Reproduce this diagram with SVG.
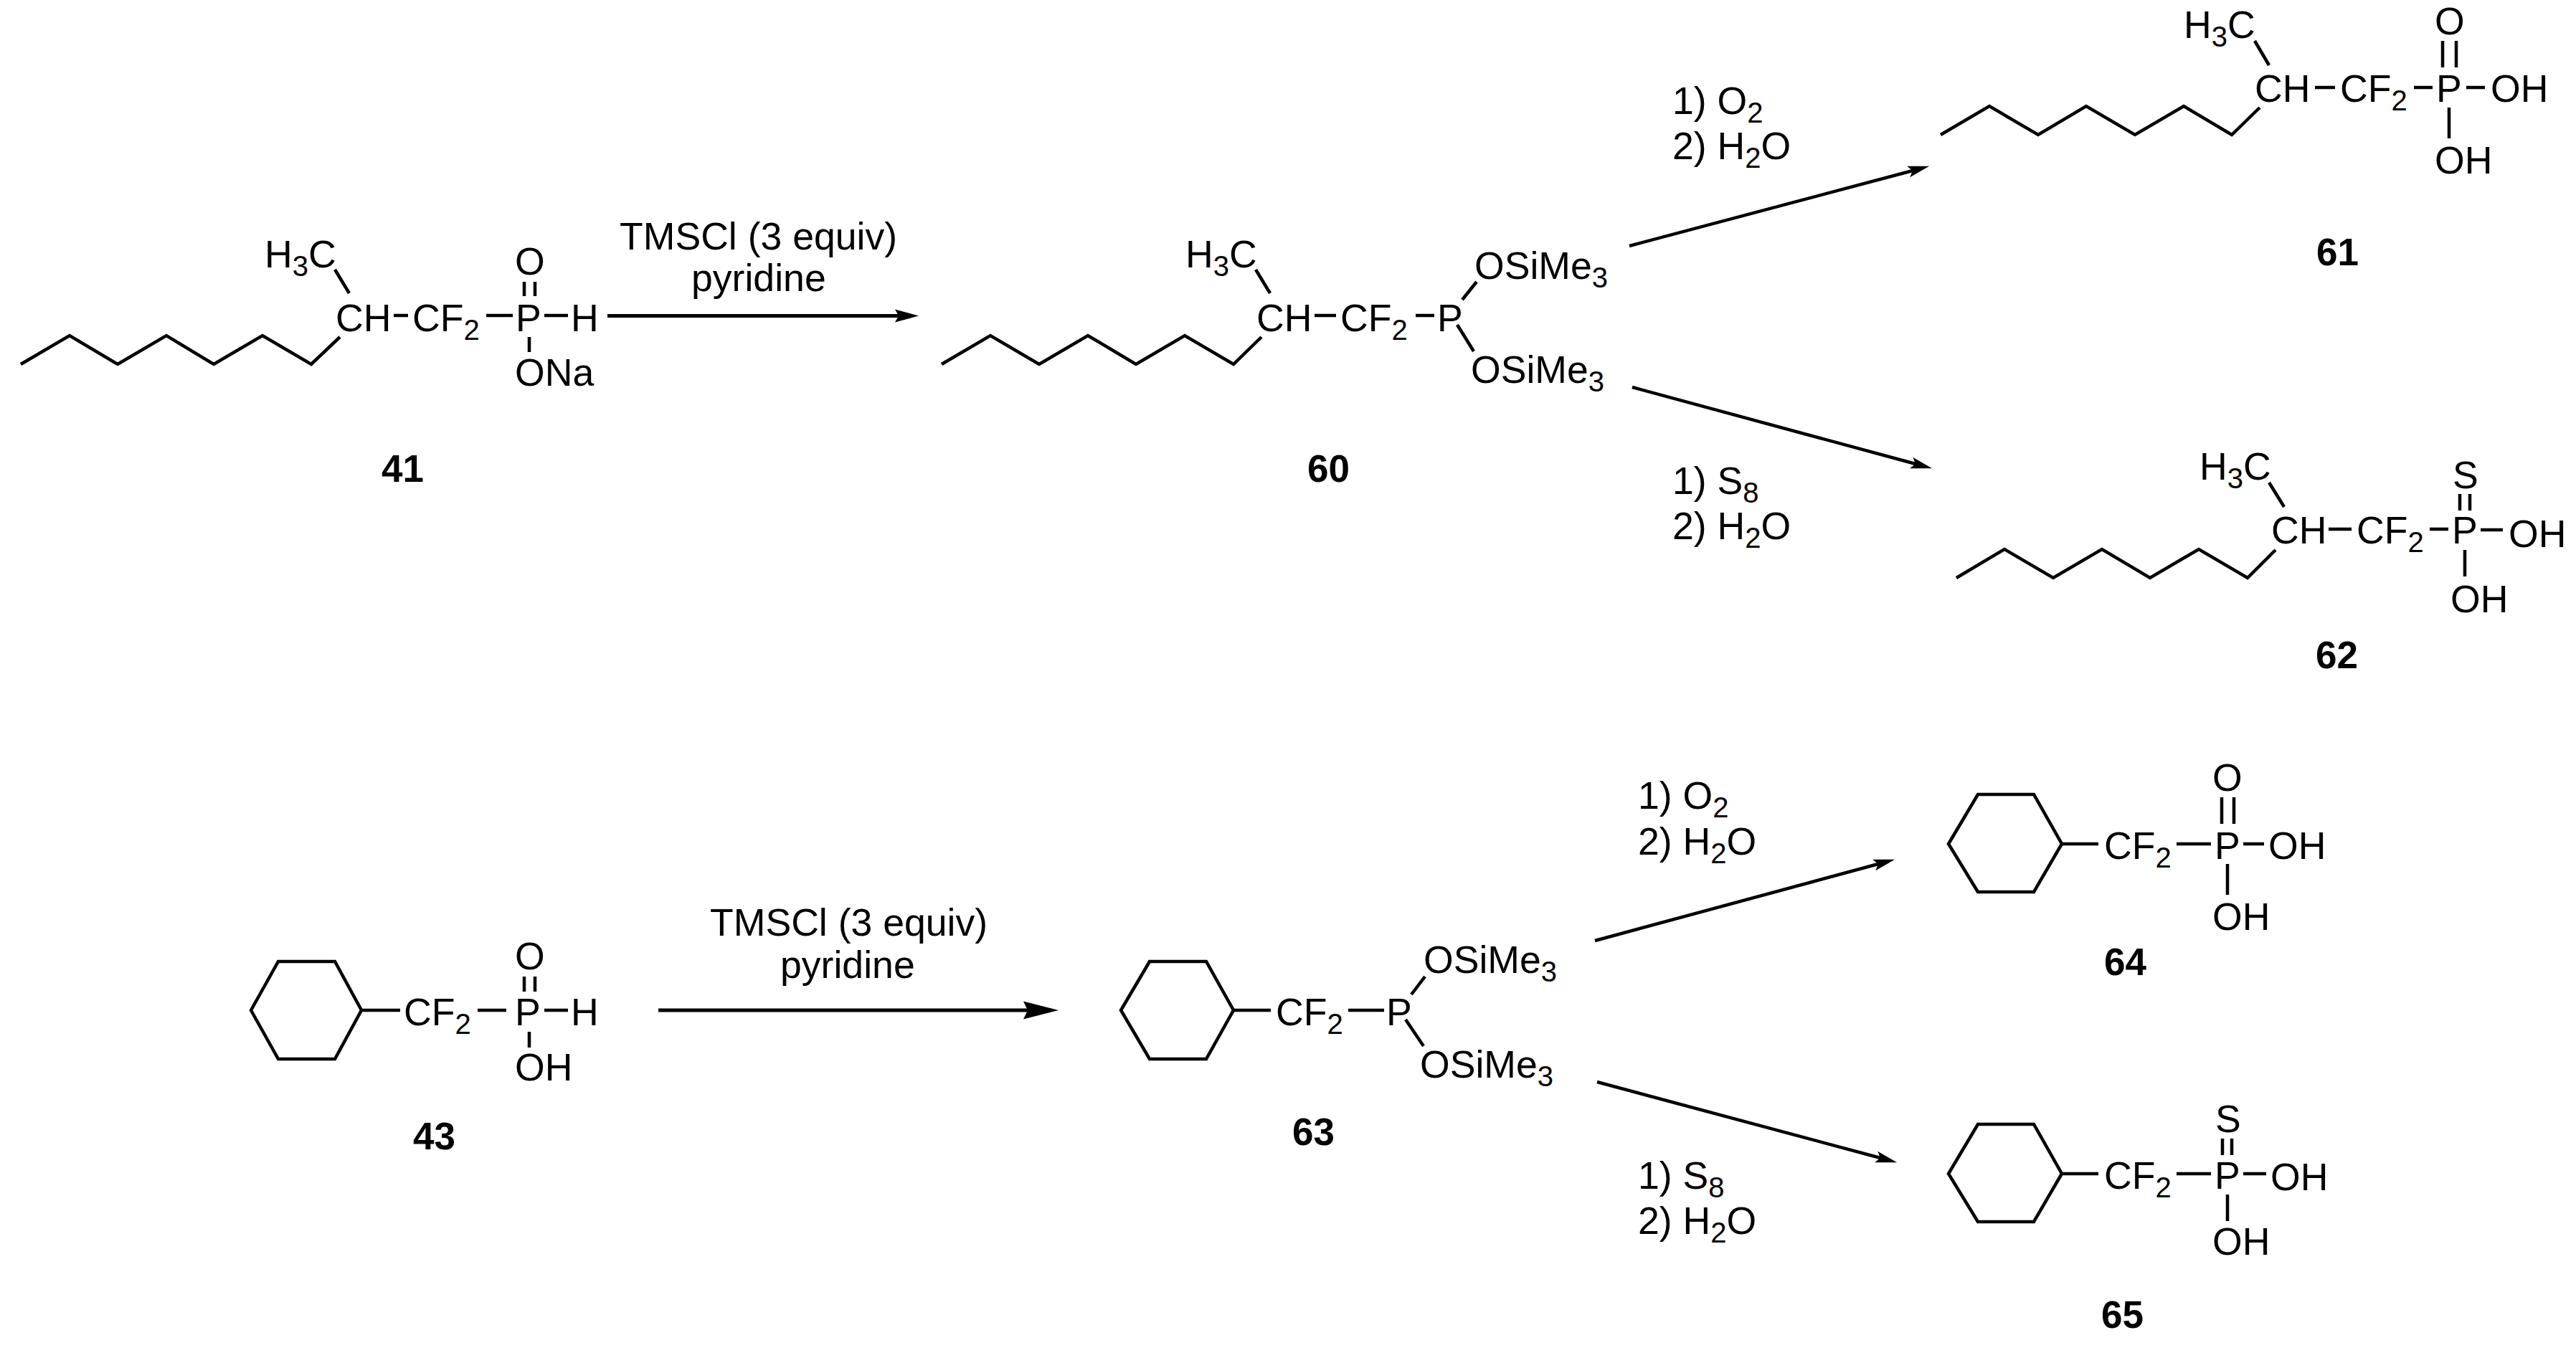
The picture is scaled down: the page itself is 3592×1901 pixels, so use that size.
<svg xmlns="http://www.w3.org/2000/svg" width="3592" height="1901" viewBox="0 0 3592 1901">
<style>
text{font-family:"Liberation Sans",Arial,sans-serif;font-size:53.6px;fill:#000}
.n{font-weight:bold;font-size:53px}
.s{font-size:40px}
.b{fill:none;stroke:#000;stroke-width:4.500;stroke-linejoin:miter}
.a{fill:none;stroke:#000;stroke-width:5}
.a2{fill:none;stroke:#000;stroke-width:4.500}
</style>
<defs>
<marker id="h1" markerUnits="userSpaceOnUse" markerWidth="40" markerHeight="24" refX="5" refY="12" orient="auto" viewBox="0 0 40 24"><path d="M0,3 L33,12 L0,21 L5,12 Z"/></marker>
<marker id="h2" markerUnits="userSpaceOnUse" markerWidth="56" markerHeight="30" refX="6" refY="15" orient="auto" viewBox="0 0 56 30"><path d="M0,2.500 L49,15 L0,27.500 L6,15 Z"/></marker>
<marker id="h3" markerUnits="userSpaceOnUse" markerWidth="36" markerHeight="20" refX="6" refY="10" orient="auto" viewBox="0 0 36 20"><path d="M0,2 L30,10 L0,18 L6,10 Z"/></marker>
</defs>
<rect width="3592" height="1901" fill="#fff"/>

<g id="connectors">
<line class="a" x1="847" y1="440.500" x2="1253" y2="440.500" marker-end="url(#h1)"/>
<line class="a2" x1="2272" y1="343" x2="2667" y2="238" marker-end="url(#h3)"/>
<line class="a2" x1="2276" y1="540" x2="2671" y2="647" marker-end="url(#h3)"/>
<line class="a" x1="918" y1="1409" x2="1433" y2="1409" marker-end="url(#h2)"/>
<line class="a2" x1="2224" y1="1312" x2="2619" y2="1205" marker-end="url(#h3)"/>
<line class="a2" x1="2227" y1="1509" x2="2622" y2="1615" marker-end="url(#h3)"/>
</g>

<g id="reagents">
<text x="864" y="348">TMSCl (3 equiv)</text>
<text x="964" y="406">pyridine</text>
<text x="2332" y="159">1) O<tspan class="s" dy="12">2</tspan></text>
<text x="2332" y="222">2) H<tspan class="s" dy="12">2</tspan><tspan dy="-12">O</tspan></text>
<text x="2332" y="689">1) S<tspan class="s" dy="12">8</tspan></text>
<text x="2332" y="752">2) H<tspan class="s" dy="12">2</tspan><tspan dy="-12">O</tspan></text>
<text x="990" y="1305">TMSCl (3 equiv)</text>
<text x="1088" y="1364">pyridine</text>
<text x="2284" y="1128">1) O<tspan class="s" dy="12">2</tspan></text>
<text x="2284" y="1192">2) H<tspan class="s" dy="12">2</tspan><tspan dy="-12">O</tspan></text>
<text x="2284" y="1658">1) S<tspan class="s" dy="12">8</tspan></text>
<text x="2284" y="1721">2) H<tspan class="s" dy="12">2</tspan><tspan dy="-12">O</tspan></text>
</g>

<g id="compound-41">
<polyline class="b" points="29,508 97,468 164,508 232,468 298,508 366,468 434,508 474,470"/>
<path class="b" d="M467,376 L487,409 M549,440 H569 M678,440 H715 M759,440 H792 M731,393 V413 M746,393 V413 M738,470 V491"/>
<text x="369" y="373">H<tspan class="s" dy="12">3</tspan><tspan dy="-12">C</tspan></text>
<text x="468" y="462">CH</text>
<text x="575" y="462">CF<tspan class="s" dy="12">2</tspan></text>
<text x="719" y="462">P</text>
<text x="796" y="462">H</text>
<text x="718" y="383">O</text>
<text x="718" y="538">ONa</text>
<text class="n" x="532" y="672">41</text>
</g>

<g id="compound-60">
<polyline class="b" points="1313,508 1381,468 1449,508 1517,468 1584,508 1652,468 1720,508 1759,470"/>
<path class="b" d="M1751,376 L1771,409 M1833,440 H1863 M1974,440 H2000 M2059,393 L2039,418 M2032,453 L2055,490"/>
<text x="1653" y="373">H<tspan class="s" dy="12">3</tspan><tspan dy="-12">C</tspan></text>
<text x="1752" y="462">CH</text>
<text x="1869" y="462">CF<tspan class="s" dy="12">2</tspan></text>
<text x="2004" y="462">P</text>
<text x="2056" y="389">OSiMe<tspan class="s" dy="12">3</tspan></text>
<text x="2051" y="534">OSiMe<tspan class="s" dy="12">3</tspan></text>
<text class="n" x="1823" y="672">60</text>
</g>

<g id="compound-61">
<polyline class="b" points="2706,188 2774,148 2842,188 2909,148 2977,188 3045,148 3112,188 3151,150"/>
<path class="b" d="M3144,57 L3164,91 M3228,122 H3256 M3366,122 H3392 M3439,122 H3465 M3406,57 V94 M3425,57 V94 M3415,150 V193"/>
<text x="3045" y="53">H<tspan class="s" dy="12">3</tspan><tspan dy="-12">C</tspan></text>
<text x="3144" y="142">CH</text>
<text x="3263" y="142">CF<tspan class="s" dy="12">2</tspan></text>
<text x="3397" y="142">P</text>
<text x="3473" y="142">OH</text>
<text x="3395" y="48">O</text>
<text x="3395" y="242">OH</text>
<text class="n" x="3230" y="370">61</text>
</g>

<g id="compound-62">
<polyline class="b" points="2728,806 2795,766 2863,806 2931,766 2998,806 3066,766 3134,806 3173,767"/>
<path class="b" d="M3164,673 L3185,707 M3247,738 H3279 M3388,738 H3414 M3459,739 H3490 M3430,689 V712 M3444,689 V712 M3437,767 V804"/>
<text x="3067" y="669">H<tspan class="s" dy="12">3</tspan><tspan dy="-12">C</tspan></text>
<text x="3167" y="758">CH</text>
<text x="3286" y="758">CF<tspan class="s" dy="12">2</tspan></text>
<text x="3419" y="758">P</text>
<text x="3498" y="763">OH</text>
<text x="3420" y="681">S</text>
<text x="3417" y="854">OH</text>
<text class="n" x="3229" y="932">62</text>
</g>

<g id="compound-43">
<polygon class="b" points="350,1409 388,1341 467,1341 504,1409 467,1477 388,1477"/>
<path class="b" d="M504,1409 H558 M666,1409 H706 M759,1409 H792 M731,1362 V1383 M746,1362 V1383 M738,1439 V1461"/>
<text x="563" y="1430">CF<tspan class="s" dy="12">2</tspan></text>
<text x="718" y="1430">P</text>
<text x="796" y="1430">H</text>
<text x="718" y="1352">O</text>
<text x="718" y="1507">OH</text>
<text class="n" x="576" y="1603">43</text>
</g>

<g id="compound-63">
<polygon class="b" points="1563,1409 1603,1341 1682,1341 1720,1409 1682,1477 1603,1477"/>
<path class="b" d="M1720,1409 H1772 M1880,1409 H1930 M1987,1362 L1968,1387 M1960,1422 L1985,1459"/>
<text x="1779" y="1430">CF<tspan class="s" dy="12">2</tspan></text>
<text x="1933" y="1430">P</text>
<text x="1985" y="1357">OSiMe<tspan class="s" dy="12">3</tspan></text>
<text x="1980" y="1503">OSiMe<tspan class="s" dy="12">3</tspan></text>
<text class="n" x="1802" y="1597">63</text>
</g>

<g id="compound-64">
<polygon class="b" points="2717,1177 2758,1108 2836,1108 2875,1177 2836,1244 2758,1244"/>
<path class="b" d="M2875,1177 H2926 M3035,1177 H3083 M3128,1177 H3157 M3098,1112 V1149 M3115,1112 V1149 M3106,1205 V1248"/>
<text x="2934" y="1198">CF<tspan class="s" dy="12">2</tspan></text>
<text x="3088" y="1198">P</text>
<text x="3163" y="1198">OH</text>
<text x="3085" y="1103">O</text>
<text x="3085" y="1297">OH</text>
<text class="n" x="2934" y="1360">64</text>
</g>

<g id="compound-65">
<polygon class="b" points="2717,1637 2758,1568 2836,1568 2875,1637 2836,1704 2758,1704"/>
<path class="b" d="M2875,1637 H2926 M3035,1637 H3083 M3128,1637 H3160 M3099,1588 V1611 M3112,1588 V1611 M3106,1666 V1703"/>
<text x="2934" y="1658">CF<tspan class="s" dy="12">2</tspan></text>
<text x="3088" y="1658">P</text>
<text x="3166" y="1660">OH</text>
<text x="3089" y="1579">S</text>
<text x="3085" y="1750">OH</text>
<text class="n" x="2930" y="1852">65</text>
</g>
</svg>
